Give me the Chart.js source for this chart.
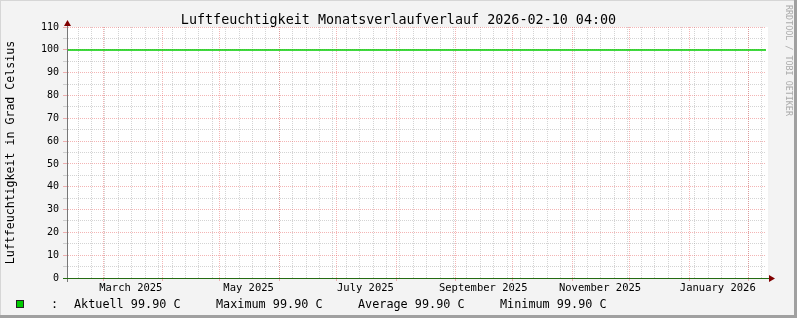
<!DOCTYPE html>
<html>
<head>
<meta charset="utf-8">
<script src="https://cdn.jsdelivr.net/npm/chart.js@4.4.1/dist/chart.umd.min.js"></script>
<style>
  html, body { margin: 0; padding: 0; background: #f3f3f3; }
  #wrap { width: 797px; height: 318px; position: relative; }
</style>
</head>
<body>
<div id="wrap"><canvas id="c" width="797" height="318"></canvas></div>
<script>
// ---------- data ----------
const chartTitle = 'Luftfeuchtigkeit Monatsverlaufverlauf 2026-02-10 04:00';
const yAxisTitle = 'Luftfeuchtigkeit in Grad Celsius';
const watermark = 'RRDTOOL / TOBI OETIKER';
const rangeStart = '2025-02-10T04:00:00Z';
const rangeEnd = '2026-02-10T04:00:00Z';
const seriesTimes = ['2025-02-10T04:00:00Z', '2026-02-10T04:00:00Z'];
const humidity = [99.9, 99.9];
const monthLines = ['2025-03-01', '2025-04-01', '2025-05-01', '2025-06-01', '2025-07-01', '2025-08-01',
                    '2025-09-01', '2025-10-01', '2025-11-01', '2025-12-01', '2026-01-01', '2026-02-01'];
const monthLabels = ['March 2025', 'May 2025', 'July 2025', 'September 2025', 'November 2025', 'January 2026'];
const monthLabelDates = ['2025-03-15T12:00:00Z', '2025-05-16T00:00:00Z', '2025-07-16T00:00:00Z',
                         '2025-09-15T12:00:00Z', '2025-11-15T12:00:00Z', '2026-01-16T00:00:00Z'];
const firstWeekLine = '2025-02-16T00:00:00Z';
const yMin = 0, yMax = 110, yMinorStep = 5, yMajorStep = 10;
const legendNames = ['Aktuell', 'Maximum', 'Average', 'Minimum'];
const legendValues = [99.90, 99.90, 99.90, 99.90];
const unit = 'C';

// ---------- helpers ----------
const DAY = 86400000;
const t0 = Date.parse(rangeStart);
const toDays = s => (Date.parse(s.length === 10 ? s + 'T00:00:00Z' : s) - t0) / DAY;
const xMaxDays = toDays(rangeEnd);
const monthVals = monthLines.map(toDays);
const labelVals = monthLabelDates.map(toDays);
const weekVals = [];
for (let d = toDays(firstWeekLine); d < xMaxDays; d += 7) weekVals.push(d);

const MONO = '"DejaVu Sans Mono", monospace';
const GREY = 'rgba(160,160,160,0.45)';
const RED = 'rgba(230,90,90,0.45)';
const ARROW = '#800000';

const decor = {
  id: 'decor',
  beforeDraw(chart) {
    const { ctx, chartArea: a } = chart;
    ctx.save();
    ctx.fillStyle = '#f3f3f3';
    ctx.fillRect(0, 0, chart.width, chart.height);
    // frame
    ctx.fillStyle = '#d6d6d6';
    ctx.fillRect(0, 0, chart.width, 1);
    ctx.fillRect(0, 0, 1, chart.height);
    ctx.fillStyle = '#a0a0a0';
    ctx.fillRect(chart.width - 3, 0, 3, chart.height);
    ctx.fillRect(0, chart.height - 3, chart.width, 3);
    // canvas
    ctx.fillStyle = '#ffffff';
    ctx.fillRect(a.left, a.top, a.right - a.left + 2, a.bottom - a.top);
    ctx.restore();
  },
  afterDraw(chart) {
    const { ctx, chartArea: a } = chart;
    const xs = chart.scales.x, ys = chart.scales.y;
    const x0 = Math.round(xs.getPixelForValue(0)) + 0.5;
    const yb = Math.round(ys.getPixelForValue(0)) + 0.5;
    ctx.save();
    // axis extensions
    ctx.lineWidth = 1;
    ctx.strokeStyle = '#777';
    ctx.beginPath(); ctx.moveTo(x0, a.top - 6); ctx.lineTo(x0, a.bottom + 4); ctx.stroke();
    ctx.strokeStyle = '#236b12';
    ctx.beginPath(); ctx.moveTo(a.left - 4, yb); ctx.lineTo(a.right + 4, yb); ctx.stroke();
    // arrows
    ctx.fillStyle = ARROW;
    ctx.beginPath();
    ctx.moveTo(x0 - 3.5, a.top - 1); ctx.lineTo(x0 + 3.5, a.top - 1); ctx.lineTo(x0, a.top - 7); ctx.closePath(); ctx.fill();
    ctx.beginPath();
    ctx.moveTo(a.right + 3, yb - 3.5); ctx.lineTo(a.right + 3, yb + 3.5); ctx.lineTo(a.right + 9, yb); ctx.closePath(); ctx.fill();
    // title
    ctx.fillStyle = '#000';
    ctx.font = '13.4px ' + MONO;
    ctx.textAlign = 'center';
    ctx.textBaseline = 'alphabetic';
    ctx.fillText(chartTitle, chart.width / 2, 23.5);
    // watermark
    ctx.save();
    ctx.translate(788, 5);
    ctx.rotate(Math.PI / 2);
    ctx.font = '8.4px ' + MONO;
    ctx.fillStyle = '#aaaaaa';
    ctx.textAlign = 'left';
    ctx.textBaseline = 'middle';
    ctx.fillText(watermark, 0, 0);
    ctx.restore();
    // legend
    ctx.fillStyle = '#00cc00';
    ctx.fillRect(16, 300, 8, 8);
    ctx.strokeStyle = '#222';
    ctx.strokeRect(16.5, 300.5, 7, 7);
    ctx.fillStyle = '#000';
    ctx.font = '11.8px ' + MONO;
    ctx.textAlign = 'center';
    ctx.fillText(':', 54.5, 308.3);
    ctx.textAlign = 'left';
    legendNames.forEach((n, i) => {
      ctx.fillText(n + ' ' + legendValues[i].toFixed(2) + ' ' + unit, 74 + i * 142, 308.3);
    });
    ctx.restore();
  }
};

const gridAxis = (vals, color, tl) => ({
  type: 'linear', position: 'bottom', min: 0, max: xMaxDays, weight: -1,
  afterBuildTicks: s => { s.ticks = vals.map(v => ({ value: v })); },
  afterFit: s => { s.height = 0; },
  ticks: { display: false },
  grid: { display: true, color: color, lineWidth: 1, drawTicks: tl > 0, tickLength: tl, tickColor: color },
  border: { display: false, dash: [1, 1] }
});

new Chart(document.getElementById('c'), {
  type: 'line',
  data: {
    datasets: [{
      data: seriesTimes.map((t, i) => ({ x: toDays(t), y: humidity[i] })),
      borderColor: '#00cc00',
      borderWidth: 1.5,
      pointRadius: 0,
      fill: false,
      xAxisID: 'x',
      yAxisID: 'y'
    }]
  },
  plugins: [decor],
  options: {
    responsive: false,
    animation: false,
    devicePixelRatio: 1,
    layout: { padding: { top: 27, right: 31, bottom: 0, left: 0 } },
    plugins: { legend: { display: false }, tooltip: { enabled: false }, title: { display: false } },
    scales: {
      xWeek: gridAxis(weekVals, GREY, 0),
      xMonth: gridAxis(monthVals, RED, 3),
      x: {
        type: 'linear', position: 'bottom', min: 0, max: xMaxDays, weight: 0,
        afterBuildTicks: s => { s.ticks = labelVals.map(v => ({ value: v })); },
        afterFit: s => { s.height = 40; },
        ticks: {
          autoSkip: false, maxRotation: 0, minRotation: 0, padding: 4,
          color: '#000', font: { family: MONO, size: 10.5 },
          callback: (v, i) => monthLabels[i]
        },
        grid: { display: false, drawTicks: false },
        border: { display: true, color: '#236b12', width: 1, z: 1 }
      },
      y: {
        type: 'linear', position: 'left', min: yMin, max: yMax,
        afterFit: s => { s.width = 67; },
        ticks: {
          stepSize: yMinorStep, autoSkip: false, padding: 4,
          color: '#000', font: { family: MONO, size: 10 },
          callback: v => (v % yMajorStep === 0 ? String(v) : '')
        },
        grid: {
          color: c => (c.tick && c.tick.value % yMajorStep === 0 ? RED : GREY),
          tickColor: c => (c.tick && c.tick.value % yMajorStep === 0 ? RED : GREY),
          lineWidth: 1, drawTicks: true, tickLength: 4
        },
        border: { display: true, color: '#777', width: 1, dash: [1, 1], z: 1 },
        title: {
          display: true, text: yAxisTitle, color: '#000',
          font: { family: MONO, size: 11.6 }, padding: { top: 4.5, bottom: 0 }
        }
      }
    }
  }
});
</script>
</body>
</html>
